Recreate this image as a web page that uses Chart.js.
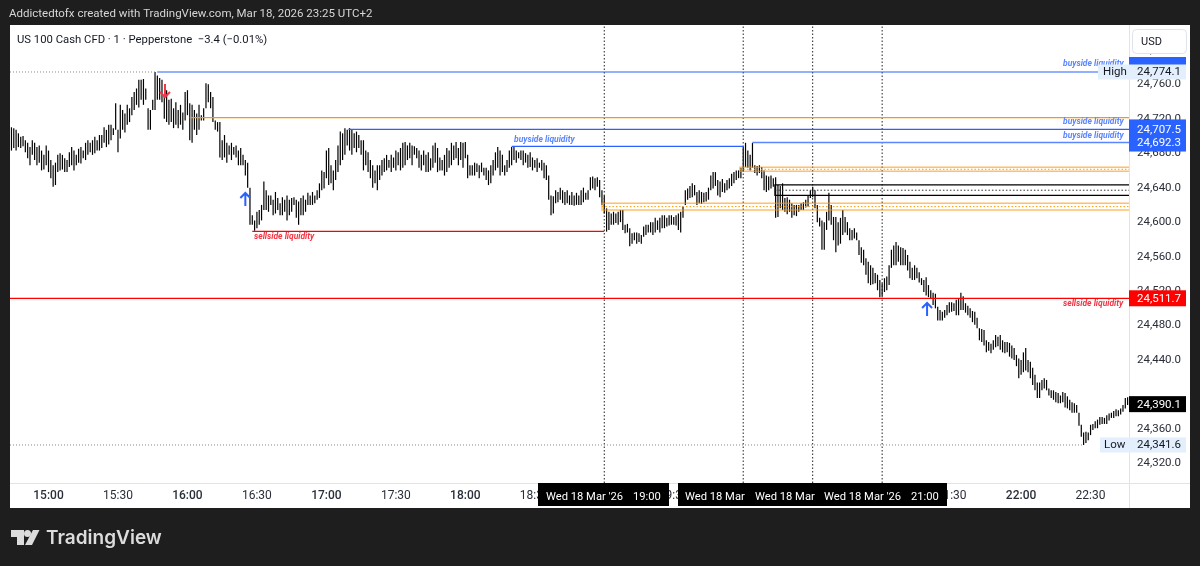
<!DOCTYPE html>
<html>
<head>
<meta charset="utf-8">
<title>US 100 Cash CFD</title>
<script src="https://cdn.jsdelivr.net/npm/chart.js@4"></script>
<style>
  html, body { margin: 0; padding: 0; background: #1e1e1e; }
  #box { width: 1200px; height: 566px; }
</style>
</head>
<body>
<div id="box"><canvas id="chart" width="1200" height="566"></canvas></div>
<script>
// one minute bars, first bar is 14:44 (minutes since midnight)
const firstMinute = 884;
const highs = [
  24710,24709,24707,24703,24699,24700,24695,24692,24687,24695,
  24692,24687,24689,24683,24678,24689,24683,24672,24666,24669,
  24678,24680,24678,24674,24672,24681,24687,24683,24678,24685,
  24687,24683,24692,24695,24692,24695,24699,24695,24701,24701,
  24710,24707,24713,24713,24709,24738,24707,24736,24730,24726,
  24736,24732,24745,24751,24755,24765,24765,24766,24755,24732,
  24730,24742,24774.1,24770,24767,24765,24747,24753,24742,24743,
  24732,24739,24730,24736,24727,24751,24753,24738,24736,24730,
  24726,24736,24724,24732,24761,24760,24751,24745,24718,24716,
  24716,24695,24701,24692,24689,24692,24687,24689,24683,24686,
  24678,24672,24669,24640,24608,24602,24612,24614,24620,24647,
  24637,24631,24631,24626,24635,24628,24622,24629,24626,24631,
  24626,24628,24629,24626,24624,24628,24631,24626,24634,24631,
  24635,24631,24637,24645,24660,24658,24683,24686,24666,24660,
  24672,24689,24705,24703,24709,24707,24709,24707,24703,24705,
  24701,24695,24695,24683,24681,24672,24666,24660,24666,24666,
  24672,24674,24678,24672,24678,24675,24683,24681,24686,24692,
  24693,24689,24692,24689,24688,24686,24683,24678,24683,24678,
  24681,24674,24689,24692,24686,24675,24672,24678,24686,24683,
  24692,24689,24693,24686,24693,24692,24693,24678,24666,24666,
  24669,24668,24666,24669,24663,24663,24660,24666,24672,24681,
  24687,24683,24678,24666,24672,24683,24687,24687,24683,24681,
  24683,24683,24680,24678,24681,24675,24672,24674,24669,24672,
  24669,24666,24654,24631,24630,24637,24635,24640,24637,24635,
  24637,24631,24635,24631,24634,24631,24637,24640,24634,24637,
  24652,24653,24651,24652,24649,24637,24631,24616,24612,24610,
  24612,24610,24612,24614,24614,24597,24598,24593,24587,24588,
  24588,24587,24585,24595,24597,24597,24600,24600,24605,24602,
  24605,24608,24608,24605,24608,24608,24606,24608,24610,24612,
  24618,24637,24639,24642,24645,24643,24635,24637,24635,24634,
  24635,24640,24654,24658,24658,24649,24647,24650,24645,24649,
  24651,24656,24658,24660,24660,24663,24687,24692,24683,24678,
  24692,24666,24665,24666,24664,24660,24654,24653,24654,24651,
  24652,24643,24642,24645,24628,24629,24626,24622,24620,24620,
  24620,24622,24623,24626,24631,24637,24641,24637,24620,24605,
  24602,24600,24612,24634,24620,24606,24606,24600,24605,24614,
  24606,24600,24593,24591,24593,24588,24579,24571,24568,24558,
  24554,24550,24547,24541,24539,24533,24529,24535,24537,24550,
  24568,24573,24577,24573,24571,24570,24568,24562,24554,24547,
  24550,24547,24542,24535,24533,24536,24527,24521,24518,24517,
  24502,24498,24496,24498,24504,24507,24507,24506,24510,24512,
  24518,24514,24506,24503,24500,24497,24496,24489,24477,24476,
  24475,24463,24461,24459,24463,24469,24467,24469,24463,24461,
  24461,24460,24457,24454,24446,24442,24440,24449,24454,24440,
  24438,24431,24423,24414,24414,24417,24419,24417,24407,24405,
  24405,24403,24402,24399,24403,24402,24398,24394,24391,24390,
  24388,24379,24365,24356,24357,24356,24365,24366,24369,24371,
  24374,24374,24373,24376,24378,24379,24381,24383,24382,24384,
  24388,24396,24397
];
const lows = [
  24683,24686,24683,24687,24686,24688,24681,24674,24666,24678,
  24672,24666,24669,24660,24661,24666,24658,24651,24641,24643,
  24658,24660,24661,24658,24658,24664,24666,24660,24666,24669,
  24668,24674,24672,24678,24681,24678,24680,24683,24683,24686,
  24692,24687,24690,24695,24701,24707,24681,24697,24707,24704,
  24713,24716,24724,24730,24736,24733,24742,24736,24742,24707,
  24707,24730,24730,24742,24742,24739,24720,24716,24713,24716,
  24709,24713,24709,24713,24707,24718,24724,24695,24692,24707,
  24701,24707,24718,24718,24732,24739,24732,24716,24707,24705,
  24675,24672,24675,24669,24678,24672,24678,24675,24666,24666,
  24666,24654,24640,24597,24597,24590,24593,24597,24602,24614,
  24614,24612,24620,24608,24610,24614,24608,24608,24612,24602,
  24608,24612,24620,24605,24597,24608,24608,24612,24620,24620,
  24620,24622,24626,24628,24637,24639,24651,24643,24645,24637,
  24649,24658,24666,24672,24678,24689,24683,24678,24686,24681,
  24686,24678,24660,24666,24658,24651,24640,24645,24637,24649,
  24654,24658,24660,24663,24658,24663,24660,24666,24660,24663,
  24666,24672,24674,24666,24678,24674,24663,24660,24666,24658,
  24658,24660,24663,24669,24658,24660,24660,24654,24658,24663,
  24666,24672,24674,24666,24672,24663,24674,24651,24654,24654,
  24654,24658,24651,24658,24654,24649,24643,24645,24654,24660,
  24663,24654,24658,24654,24658,24663,24666,24672,24669,24674,
  24672,24666,24669,24663,24664,24660,24663,24658,24663,24660,
  24651,24649,24626,24608,24610,24622,24623,24626,24622,24620,
  24622,24620,24620,24619,24620,24620,24620,24623,24626,24626,
  24637,24639,24637,24641,24629,24620,24610,24589,24591,24597,
  24597,24599,24597,24600,24591,24587,24588,24572,24575,24579,
  24575,24577,24575,24583,24585,24588,24588,24585,24588,24591,
  24588,24593,24593,24595,24596,24597,24597,24596,24591,24588,
  24605,24620,24626,24628,24629,24631,24620,24622,24621,24623,
  24624,24626,24637,24639,24642,24631,24629,24635,24634,24637,
  24639,24642,24645,24649,24651,24651,24658,24664,24663,24660,
  24663,24657,24654,24657,24651,24637,24635,24637,24639,24641,
  24605,24606,24616,24614,24612,24609,24612,24605,24608,24607,
  24612,24614,24614,24617,24618,24628,24629,24616,24600,24595,
  24568,24568,24591,24602,24597,24579,24565,24573,24575,24585,
  24588,24585,24579,24579,24581,24579,24562,24553,24550,24539,
  24529,24527,24528,24529,24521,24513,24514,24519,24521,24527,
  24547,24550,24550,24554,24550,24550,24550,24544,24535,24533,
  24533,24535,24530,24527,24519,24515,24513,24512,24504,24500,
  24486,24486,24486,24489,24492,24495,24496,24497,24492,24492,
  24498,24498,24495,24492,24489,24484,24481,24477,24463,24461,
  24457,24449,24451,24448,24452,24455,24456,24452,24449,24448,
  24449,24444,24442,24440,24433,24419,24423,24426,24428,24426,
  24419,24411,24405,24396,24396,24405,24407,24405,24399,24396,
  24394,24391,24390,24390,24391,24385,24384,24382,24379,24379,
  24379,24364,24351,24341.6,24344,24347,24353,24359,24361,24361,
  24365,24366,24366,24366,24370,24373,24373,24375,24375,24377,
  24380,24384,24388
];

// axis ranges
const minuteMin = 883.37, minuteMax = 1366.6;
const priceMin = 24297.5, priceMax = 24828.6;

// drawn levels: start minute + price (they all run to the right edge unless an end is given)
const highPrice = 24774.1, lowPrice = 24341.6, lastPrice = 24390.1;
const highMinute = 947, lowMinute = 1347;
const buysideStarts = [947, 1029.5, 1204];
const buysidePrices = [24774.1, 24707.5, 24692.3];
const shortBuyside = [1100, 1200, 24687.9];
const orangeLine = [961, 24721.3];
const shortSellside = [988, 1140, 24589.4];
const sellsidePrice = 24511.7;
const orangeBoxStarts = [1139, 1198.6];
const orangeBoxTops = [24621.8, 24663.6];
const orangeBoxMids = [24618, 24661.3];
const orangeBoxBottoms = [24614.1, 24659];
const blackBox = [1213.7, 24643.1, 24637, 24631.1];
const sessionMarks = [1140, 1200, 1230, 1260];

// arrows: minute, price at tip
const arrowsDown = [[950.3, 24745.1]];
const arrowsUp = [[985, 24633.8], [1279.4, 24506.2]];

const blue = '#2962ff', red = '#ff0000', orange = '#ff9800', font = 'Roboto, "Liberation Sans", sans-serif';

function pathLine(points, color, width, dash) {
    return {
        type: 'line', data: points, borderColor: color, borderWidth: width,
        borderDash: dash || [], pointRadius: 0, tension: 0, order: 1, fill: false
    };
}

function level(x0, x1, price, color, width, dash) {
    return pathLine([{ x: x0, y: price }, { x: x1, y: price }], color, width, dash);
}

function boxLines(x0, top, mid, bottom, color, midColor, width) {
    return [
        pathLine([{ x: minuteMax, y: top }, { x: x0, y: top }, { x: x0, y: bottom }, { x: minuteMax, y: bottom }], color, width),
        level(x0, minuteMax, mid, midColor, 1, [1.5, 2])
    ];
}

const datasets = [{
    type: 'bar',
    data: highs.map((h, i) => ({ x: firstMinute + i, y: [lows[i], h] })),
    backgroundColor: '#000000',
    barThickness: 1.2,
    inflateAmount: 0,
    order: 2
}];

datasets.push(level(minuteMin, highMinute, highPrice, '#888888', 1, [1, 2]));
datasets.push(level(minuteMin, lowMinute, lowPrice, '#888888', 1, [1, 2]));
buysideStarts.forEach((s, i) => datasets.push(level(s, minuteMax, buysidePrices[i], i === 2 ? '#5b86ff' : blue, i === 2 ? 1.6 : 1.2)));
datasets.push(level(shortBuyside[0], shortBuyside[1], shortBuyside[2], blue, 1.2));
datasets.push(level(orangeLine[0], minuteMax, orangeLine[1], orange, 1.2));
datasets.push(level(shortSellside[0], shortSellside[1], shortSellside[2], red, 1.2));
datasets.push(level(minuteMin, minuteMax, sellsidePrice, red, 1.2));
orangeBoxStarts.forEach((s, i) => {
    boxLines(s, orangeBoxTops[i], orangeBoxMids[i], orangeBoxBottoms[i], 'rgba(255,152,0,0.6)', orange, 1.5).forEach(d => datasets.push(d));
});
boxLines(blackBox[0], blackBox[1], blackBox[2], blackBox[3], '#000000', '#333333', 1.3).forEach(d => datasets.push(d));
sessionMarks.forEach(m => datasets.push(pathLine([{ x: m, y: priceMin }, { x: m, y: priceMax }], '#222222', 1, [1.5, 2])));

function fmtPrice(v) {
    return v.toLocaleString('en-US', { minimumFractionDigits: 1, maximumFractionDigits: 1 });
}

function fmtTime(v) {
    const h = Math.floor(v / 60), m = v % 60;
    return h + ':' + (m < 10 ? '0' + m : m);
}

const panels = {
    id: 'panels',
    beforeDraw(chart) {
        const c = chart.ctx;
        c.save();
        c.fillStyle = '#1e1e1e';
        c.fillRect(0, 0, 1200, 566);
        c.fillStyle = '#ffffff';
        c.fillRect(10, 25, 1180, 483);
        c.fillStyle = '#e0e3eb';
        c.fillRect(1129, 25, 1, 483);
        c.fillRect(10, 483, 1180, 1);
        c.restore();
    }
};

function badge(c, x, y, w, h, bg, text, color, textX) {
    c.fillStyle = bg;
    c.fillRect(x, y, w, h);
    if (text) {
        c.fillStyle = color;
        c.fillText(text, textX === undefined ? x + 8 : textX, y + h / 2 + 0.5);
    }
}

function drawArrow(c, x, tip, tail, color) {
    const dir = tail > tip ? 1 : -1;
    c.strokeStyle = color;
    c.lineWidth = 2;
    c.beginPath();
    c.moveTo(x, tail);
    c.lineTo(x, tip);
    c.moveTo(x - 5, tip + dir * 5);
    c.lineTo(x, tip);
    c.lineTo(x + 5, tip + dir * 5);
    c.stroke();
}

const overlay = {
    id: 'overlay',
    afterDraw(chart) {
        const c = chart.ctx, xs = chart.scales.x, ys = chart.scales.y;
        c.save();
        c.textBaseline = 'middle';
        c.textAlign = 'left';

        // header texts
        c.font = '11.5px ' + font;
        c.fillStyle = '#d6d6d6';
        c.fillText('Addictedtofx created with TradingView.com, Mar 18, 2026 23:25 UTC+2', 9, 14.5);
        c.font = '11.3px ' + font;
        c.fillStyle = '#131722';
        c.fillText('US 100 Cash CFD · 1 · Pepperstone  −3.4 (−0.01%)', 17, 40);

        // drawing labels
        c.font = 'italic bold 8.5px ' + font;
        c.fillStyle = '#5b86ff';
        [24783, 24716.5, 24700].forEach(p => c.fillText('buyside liquidity', 1063, ys.getPixelForValue(p)));
        c.fillText('buyside liquidity', 514, ys.getPixelForValue(24695));
        c.fillStyle = '#f23645';
        c.fillText('sellside liquidity', 254, ys.getPixelForValue(24583));
        c.fillText('sellside liquidity', 1063, ys.getPixelForValue(24505.5));

        // arrows
        arrowsDown.forEach(a => {
            const y = ys.getPixelForValue(a[1]);
            drawArrow(c, xs.getPixelForValue(a[0]), y, y - 13, '#f23645');
        });
        arrowsUp.forEach(a => {
            const y = ys.getPixelForValue(a[1]);
            drawArrow(c, xs.getPixelForValue(a[0]), y, y + 13, blue);
        });

        // price badges
        c.font = '11.5px ' + font;
        badge(c, 1129, 57, 57, 8, blue, '', '');
        const yB1 = ys.getPixelForValue(24707.5), yB2 = ys.getPixelForValue(24692.3);
        badge(c, 1129, yB1 - 10, 57, yB2 - yB1 + 19, blue, '', '');
        c.fillStyle = '#ffffff';
        c.fillText(fmtPrice(24707.5), 1137, yB1 + 0.5);
        c.fillText(fmtPrice(24692.3), 1137, yB2 + 0.5);
        badge(c, 1129, ys.getPixelForValue(sellsidePrice) - 8, 57, 16, red, fmtPrice(sellsidePrice), '#ffffff');
        badge(c, 1129, ys.getPixelForValue(lastPrice) - 7, 57, 16, '#000000', fmtPrice(lastPrice), '#ffffff');
        const yH = ys.getPixelForValue(highPrice), yL = ys.getPixelForValue(lowPrice);
        badge(c, 1098, yH - 7.5, 88, 15, '#e3effd', '', '');
        badge(c, 1100, yL - 7.5, 86, 15, '#e3effd', '', '');
        c.fillStyle = '#131722';
        c.fillText('High', 1103, yH + 0.5);
        c.fillText(fmtPrice(highPrice), 1137, yH + 0.5);
        c.fillText('Low', 1104, yL + 0.5);
        c.fillText(fmtPrice(lowPrice), 1137, yL + 0.5);

        // USD button
        c.fillStyle = '#ffffff';
        c.strokeStyle = '#e0e3eb';
        c.lineWidth = 1;
        c.beginPath();
        c.roundRect(1132.5, 29.5, 54, 24, 4);
        c.fill();
        c.stroke();
        c.fillStyle = '#131722';
        c.font = '11px ' + font;
        c.fillText('USD', 1141, 42);

        // time badges
        c.font = '11.2px ' + font;
        c.fillStyle = '#000000';
        c.fillRect(538, 483, 131, 23);
        c.fillRect(678, 483, 269, 23);
        c.fillStyle = '#ffffff';
        c.fillText("Wed 18 Mar '26", 546, 497);
        c.fillText('19:00', 633, 497);
        c.fillText('Wed 18 Mar', 685, 497);
        c.fillText('Wed 18 Mar', 755, 497);
        c.fillText("Wed 18 Mar '26", 824, 497);
        c.fillText('21:00', 911, 497);

        // logo
        c.fillStyle = '#dcdcdc';
        c.fillRect(11, 530, 13, 7);
        c.fillRect(17, 537, 7, 8);
        c.beginPath();
        c.arc(27.5, 533.5, 3.5, 0, Math.PI * 2);
        c.fill();
        c.beginPath();
        c.moveTo(33, 530);
        c.lineTo(39.5, 530);
        c.lineTo(32, 545);
        c.lineTo(25, 545);
        c.closePath();
        c.fill();
        c.font = '600 19px Inter, ' + font;
        c.fillText('TradingView', 46, 538);
        c.restore();
    }
};

new Chart(document.getElementById('chart'), {
    type: 'bar',
    data: { datasets },
    plugins: [panels, overlay],
    options: {
        responsive: false,
        animation: false,
        layout: { padding: { left: 10, top: 25, right: 10, bottom: 58 } },
        plugins: { legend: { display: false }, tooltip: { enabled: false } },
        scales: {
            x: {
                type: 'linear',
                offset: false,
                min: minuteMin,
                max: minuteMax,
                grid: { display: false, drawTicks: false },
                border: { display: false },
                afterFit(scale) { scale.height = 25; },
                ticks: {
                    stepSize: 30,
                    includeBounds: false,
                    autoSkip: false,
                    maxRotation: 0,
                    padding: 6,
                    color: '#2a2e39',
                    font: ctx => ({ family: font, size: 12, weight: ctx.tick && ctx.tick.value % 60 === 0 ? '500' : 'normal' }),
                    callback: v => fmtTime(v)
                }
            },
            y: {
                position: 'right',
                min: priceMin,
                max: priceMax,
                grid: { display: false, drawTicks: false },
                border: { display: false },
                afterFit(scale) { scale.width = 61; },
                ticks: {
                    stepSize: 40,
                    includeBounds: false,
                    autoSkip: false,
                    padding: 8,
                    color: '#2a2e39',
                    font: { family: font, size: 11.5 },
                    // the last price badge takes the place of 24,400.0
                    callback: v => (v === 24400 ? '' : fmtPrice(v))
                }
            }
        }
    }
});
</script>
</body>
</html>
